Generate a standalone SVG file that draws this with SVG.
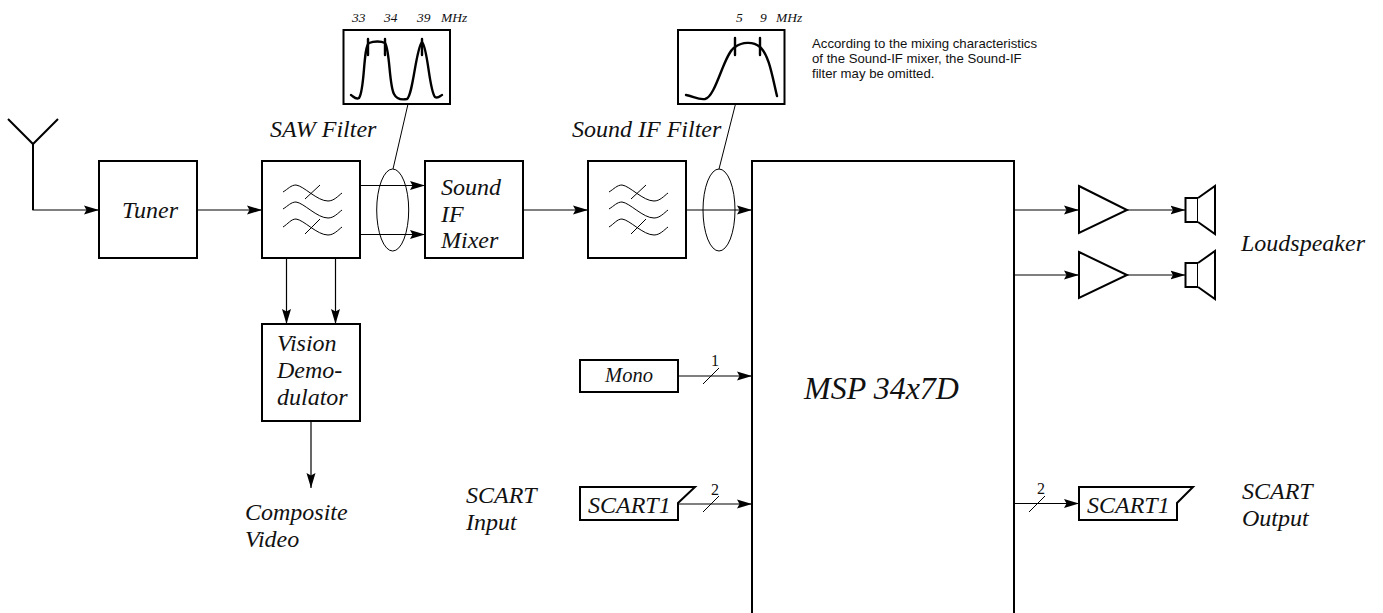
<svg xmlns="http://www.w3.org/2000/svg" width="1383" height="613" viewBox="0 0 1383 613">
<style>
text{font-family:"Liberation Serif","Times New Roman",serif;font-style:italic;fill:#111}
.b{fill:#fff;stroke:#000;stroke-width:2}
.l{fill:none;stroke:#000;stroke-width:1.2}
.c{fill:none;stroke:#000;stroke-width:2.4;stroke-linejoin:round;stroke-linecap:round}
.t{font-size:24px}
.m{font-size:13.500px}
.w{fill:none;stroke:#000;stroke-width:1}
.n{font-family:"Liberation Sans",Arial,sans-serif;font-style:normal;font-size:13.200px}
.d{font-style:normal;font-size:16px}
</style>
<defs>
<marker id="a" markerUnits="userSpaceOnUse" markerWidth="16" markerHeight="10" refX="15" refY="5" orient="auto"><path d="M0 0.500 L15 5 L0 9.500 L2.500 5Z" fill="#000"/></marker>
<g id="wave">
<path class="w" d="M-28-18C-23-21-20-25-15-25C-7-24 6-9 17-9C23-9 27-14 31-17M-28-1C-23-4-20-8-15-8C-7-7 6 8 17 8C23 8 27 3 31 0M-28 17C-23 14-20 9-15 9C-7 10 6 25 17 25C23 25 27 20 31 17M9-25L-6-11M9 9L-6 24"/>
</g>
<g id="spk"><rect class="b" x="1185.500" y="-12" width="12.500" height="24"/><path class="b" d="M1198-12L1215-24V24L1198 12"/></g>
</defs>
<g id="connectors">
<path class="l" d="M33 209.500V210H99" marker-end="url(#a)"/>
<path class="l" d="M197 210H262" marker-end="url(#a)"/>
<path class="l" d="M360 185.500H425" marker-end="url(#a)"/>
<path class="l" d="M360 234.500H425" marker-end="url(#a)"/>
<path class="l" d="M523 210H588" marker-end="url(#a)"/>
<path class="l" d="M686 210H752" marker-end="url(#a)"/>
<path class="l" d="M286.500 258V324" marker-end="url(#a)"/>
<path class="l" d="M335.500 258V324" marker-end="url(#a)"/>
<path class="l" d="M311 421V488" marker-end="url(#a)"/>
<path class="l" d="M1014 210H1079" marker-end="url(#a)"/>
<path class="l" d="M1014 275H1079" marker-end="url(#a)"/>
<path class="l" d="M1127 210H1185.500" marker-end="url(#a)"/>
<path class="l" d="M1127 275H1185.500" marker-end="url(#a)"/>
<path class="l" d="M678 376H752" marker-end="url(#a)"/>
<path class="l" d="M678 504H752" marker-end="url(#a)"/>
<path class="l" d="M1014 503.500H1079" marker-end="url(#a)"/>
<path class="w" d="M703 384L719 368M703 512L719 496M1029 512L1045 496M408 104L393 169M735.500 104L719 169"/>
<ellipse class="w" cx="392.700" cy="210" rx="16" ry="41"/>
<ellipse class="w" cx="719" cy="210" rx="16" ry="41"/>
</g>
<g id="antenna"><path d="M8 119L33 144L58 119M33 144V210" fill="none" stroke="#000" stroke-width="2"/></g>
<g id="tuner"><rect class="b" x="99" y="161" width="98" height="97"/><text class="t" x="150" y="218" text-anchor="middle">Tuner</text></g>
<g id="saw"><rect class="b" x="262" y="161" width="98" height="97"/><use href="#wave" transform="translate(311 210)"/><text class="t" x="270" y="137">SAW Filter</text></g>
<g id="mixer"><rect class="b" x="425" y="161" width="98" height="97"/><text class="t"><tspan x="441" y="195">Sound</tspan><tspan x="441" y="222">IF</tspan><tspan x="441" y="248">Mixer</tspan></text></g>
<g id="soundif"><rect class="b" x="588" y="161" width="98" height="97"/><use href="#wave" transform="translate(637 210)"/><text class="t" x="572" y="137">Sound IF Filter</text></g>
<g id="vision"><rect class="b" x="262" y="324" width="98" height="97"/><text class="t"><tspan x="277" y="351">Vision</tspan><tspan x="277" y="378">Demo-</tspan><tspan x="277" y="405">dulator</tspan></text></g>
<g id="msp"><path class="b" d="M752 620V161H1014V620"/><text x="804" y="399" font-size="32">MSP 34x7D</text></g>
<g id="inset1"><rect class="b" x="343.500" y="30" width="106.500" height="74"/><path class="c" d="M351 95C354 97 356 100 359 98C365 90 363 47 369 43C374 41 381 41 385 43C390 50 389 85 394 94C397 100 402 100 407 99C413 95 416 48 422 42C428 48 429 90 435 97C438 99 440 96 442 95"/><path class="c" d="M368 39V55M385 39V55M422 39V55"/><text x="352" y="22" class="m">33</text><text x="384" y="22" class="m">34</text><text x="417" y="22" class="m">39</text><text x="441" y="22" class="m">MHz</text></g>
<g id="inset2"><rect class="b" x="678" y="30" width="106.500" height="74"/><path class="c" d="M686 95C693 96 698 100 705 99C716 97 724 53 735 47C742 42 753 41 760 47C769 55 772 75 777 96"/><path class="c" d="M735 38V55M760 38V55"/><text x="736" y="22" class="m">5</text><text x="760" y="22" class="m">9</text><text x="776" y="22" class="m">MHz</text></g>
<g id="note"><text class="n"><tspan x="812" y="48">According to the mixing characteristics</tspan><tspan x="812" y="63">of the Sound-IF mixer, the Sound-IF</tspan><tspan x="812" y="77.500">filter may be omitted.</tspan></text></g>
<g id="amp1"><path class="b" d="M1079 186L1127 210L1079 233Z"/></g>
<g id="amp2"><path class="b" d="M1079 252L1127 275L1079 298Z"/></g>
<g id="speaker1"><use href="#spk" transform="translate(0 210)"/></g>
<g id="speaker2"><use href="#spk" transform="translate(0 275)"/></g>
<g id="loudspeaker"><text class="t" x="1241" y="251">Loudspeaker</text></g>
<g id="composite"><text class="t"><tspan x="245" y="520">Composite</tspan><tspan x="245" y="547">Video</tspan></text></g>
<g id="mono"><rect class="b" x="580" y="360" width="98" height="32"/><text x="629" y="382" text-anchor="middle" font-size="20.500">Mono</text><text class="d" x="711" y="366">1</text></g>
<g id="scartin"><text class="t"><tspan x="466" y="503">SCART</tspan><tspan x="466" y="530">Input</tspan></text><path class="b" d="M580 487H695L678 503V520H580Z"/><text x="588" y="513" font-size="24">SCART1</text><text class="d" x="711" y="495">2</text></g>
<g id="scartout"><path class="b" d="M1079 487H1193L1177 503V520H1079Z"/><text x="1087" y="513" font-size="24">SCART1</text><text class="d" x="1037" y="494">2</text><text class="t"><tspan x="1242" y="499">SCART</tspan><tspan x="1242" y="526">Output</tspan></text></g>
</svg>
